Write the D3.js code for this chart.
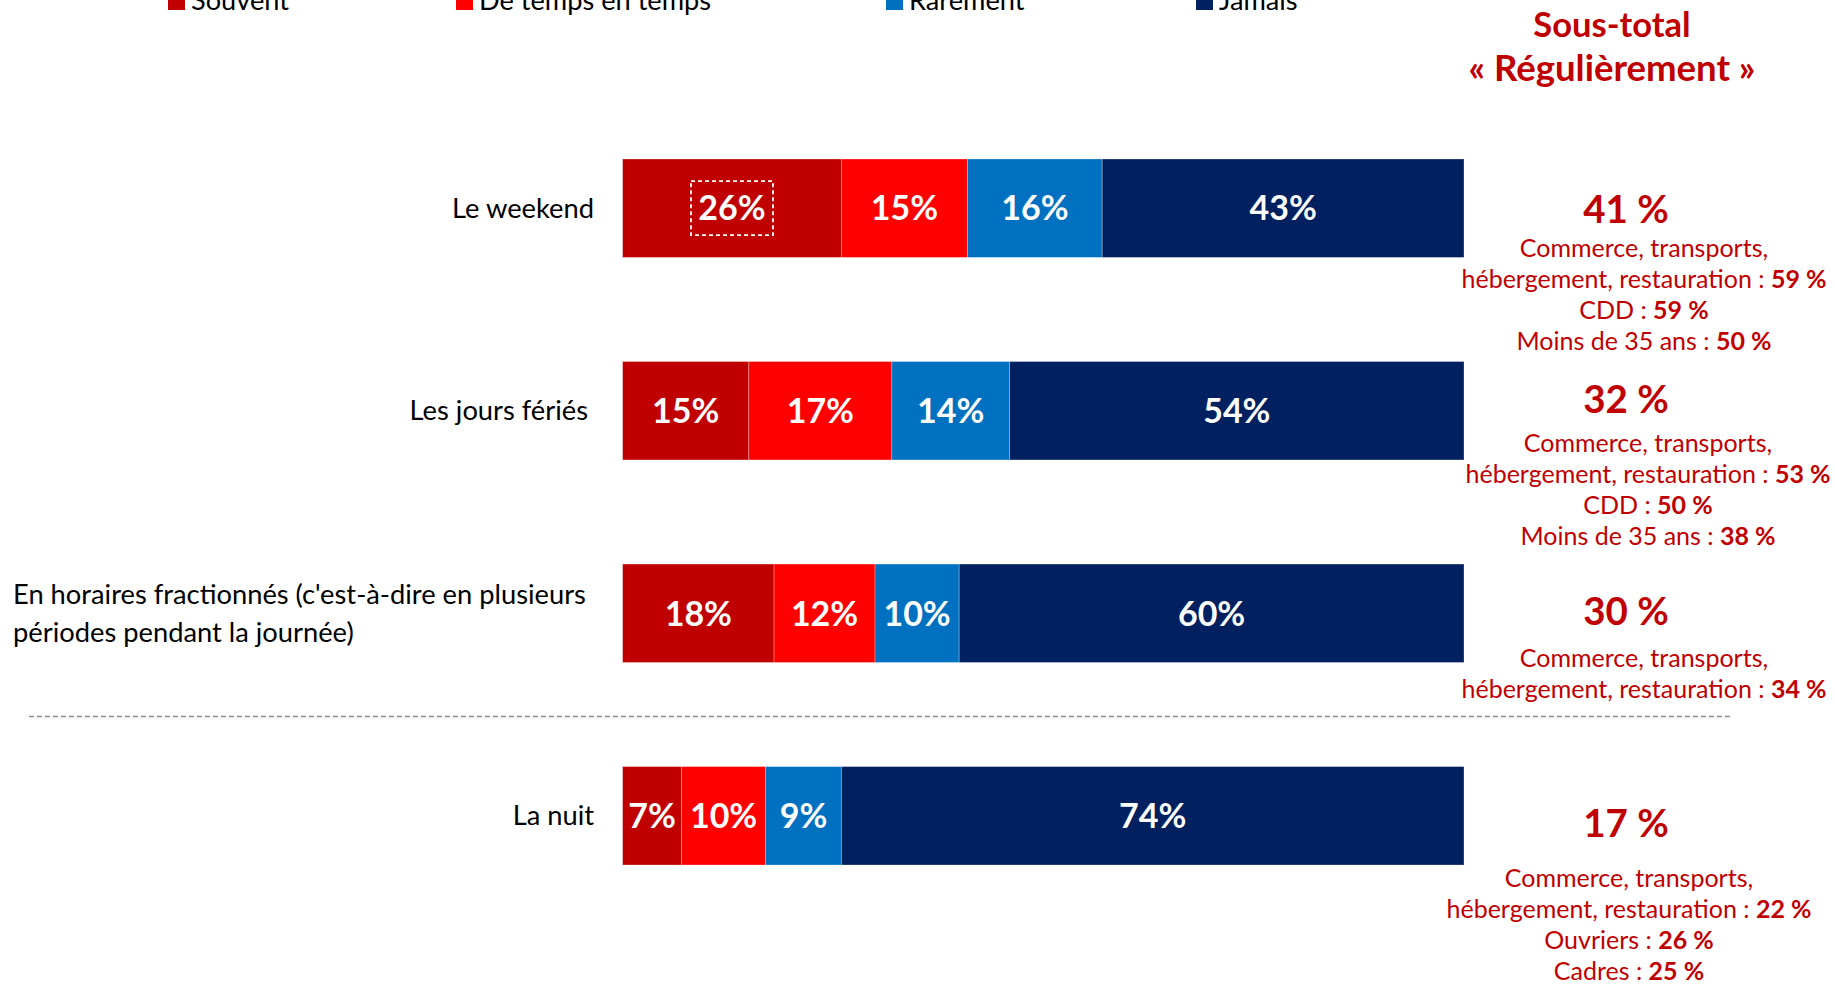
<!DOCTYPE html>
<html><head><meta charset="utf-8">
<script src="https://cdn.jsdelivr.net/npm/d3@7"></script>
<style>body{margin:0;background:#fff} svg{display:block}</style>
</head><body><svg id="c" width="1835" height="985"></svg>
<script>
// ---------- data ----------
const categories = ["Le weekend", "Les jours fériés", "En horaires fractionnés (c'est-à-dire en plusieurs périodes pendant la journée)", "La nuit"];
const categoryLines = [["Le weekend"], ["Les jours fériés"], ["En horaires fractionnés (c'est-à-dire en plusieurs", "périodes pendant la journée)"], ["La nuit"]];
const seriesNames = ["Souvent", "De temps en temps", "Rarement", "Jamais"];
const souvent = [26, 15, 18, 7];
const deTempsEnTemps = [15, 17, 12, 10];
const rarement = [16, 14, 10, 9];
const jamais = [43, 54, 60, 74];
const subtotals = [41, 32, 30, 17];
const detailLabels = [
  ["Commerce, transports,", "hébergement, restauration : ", "CDD : ", "Moins de 35 ans : "],
  ["Commerce, transports,", "hébergement, restauration : ", "CDD : ", "Moins de 35 ans : "],
  ["Commerce, transports,", "hébergement, restauration : "],
  ["Commerce, transports,", "hébergement, restauration : ", "Ouvriers : ", "Cadres : "]
];
const detailValues = [
  [null, 59, 59, 50],
  [null, 53, 50, 38],
  [null, 34],
  [null, 22, 26, 25]
];
const subtotalTitle = ["Sous-total", "« Régulièrement »"];

// ---------- layout / style ----------
const colors = ["#C00000", "#FF0000", "#0070C0", "#002060"];
const annoRed = "#C00000";
const fontFam = "Lato, 'Open Sans', sans-serif";
const bigOffset = [15, 2, 12, 21];      // subtotal baseline vs bar centre
const detailOffset = [49, 41, 54, 71];  // first detail baseline vs bar centre
const detailCx = [1644, 1648, 1644, 1629];
const bigCx = 1626;
const lineGap = 31;
const legendX = [168, 456, 886, 1196];
const labelAnchor = [["end", 594], ["end", 588], ["start", 13], ["end", 594]];
const titleSizes = [34.5, 36.5];

const svg = d3.select("#c");
const x = d3.scaleLinear().domain([0, 100]).range([622.6, 1464]);
const y = d3.scaleBand().domain(categories).range([159, 865]).paddingInner(0.514).paddingOuter(0);
const bw = y.bandwidth();

const rows = categories.map((c, i) => ({cat: c, "Souvent": souvent[i], "De temps en temps": deTempsEnTemps[i], "Rarement": rarement[i], "Jamais": jamais[i]}));
const stack = d3.stack().keys(seriesNames)(rows);

// bars
const g = svg.append("g");
stack.forEach((s, si) => {
  const grp = g.append("g").attr("fill", colors[si]);
  grp.selectAll("rect").data(s).join("rect")
    .attr("x", d => x(d[0])).attr("y", d => y(d.data.cat))
    .attr("width", d => x(d[1]) - x(d[0])).attr("height", bw)
    .attr("stroke", "#ffffff").attr("stroke-opacity", 0.35).attr("stroke-width", 0.8);
  grp.selectAll("text").data(s).join("text")
    .attr("x", d => (x(d[0]) + x(d[1])) / 2)
    .attr("y", d => y(d.data.cat) + bw / 2)
    .attr("dy", "0.36em")
    .attr("text-anchor", "middle")
    .attr("fill", "#fff").attr("font-family", fontFam).attr("font-weight", 700).attr("font-size", 34)
    .text(d => (d[1] - d[0]) + "%");
});

// dashed highlight box around first label
{
  const d = stack[0][0];
  const cx = (x(d[0]) + x(d[1])) / 2, cy = y(d.data.cat) + bw / 2;
  g.append("rect").attr("x", cx - 41).attr("y", cy - 27).attr("width", 82).attr("height", 54)
    .attr("fill", "none").attr("stroke", "#fff").attr("stroke-width", 1.8).attr("stroke-dasharray", "4,3");
}

// category labels
categoryLines.forEach((lines, i) => {
  const cy = y(categories[i]) + bw / 2;
  const t = svg.append("text").attr("text-anchor", labelAnchor[i][0]).attr("font-family", fontFam)
    .attr("font-size", 27.3).attr("fill", "#000");
  lines.forEach((l, li) => {
    t.append("tspan").attr("x", labelAnchor[i][1]).attr("y", cy + (li - (lines.length - 1) / 2) * 37.5)
      .attr("dy", "0.35em").text(l);
  });
});

// separator
{
  const sy = (y(categories[2]) + bw + y(categories[3])) / 2 + 2;
  svg.append("line").attr("x1", 29).attr("x2", 1730).attr("y1", sy).attr("y2", sy)
    .attr("stroke", "#8c8c8c").attr("stroke-width", 1.3).attr("stroke-dasharray", "5,3");
}

// legend (cut at the top edge, as in the original)
seriesNames.forEach((n, i) => {
  svg.append("rect").attr("x", legendX[i]).attr("y", -7).attr("width", 17).attr("height", 17).attr("fill", colors[i]);
  svg.append("text").attr("x", legendX[i] + 23).attr("y", 10).attr("font-family", fontFam)
    .attr("font-size", 27.2).attr("fill", "#000").text(n);
});

// subtotal title
subtotalTitle.forEach((t, i) => {
  svg.append("text").attr("x", 1612).attr("y", 37 + i * 44).attr("text-anchor", "middle")
    .attr("font-family", fontFam).attr("font-weight", 700).attr("font-size", titleSizes[i]).attr("fill", annoRed)
    .text(t);
});

// annotations
subtotals.forEach((v, i) => {
  const cy = y(categories[i]) + bw / 2;
  svg.append("text").attr("x", bigCx).attr("y", cy + bigOffset[i]).attr("text-anchor", "middle")
    .attr("font-family", fontFam).attr("font-weight", 700).attr("font-size", 38.5).attr("fill", annoRed)
    .text(v + " %");
  detailLabels[i].forEach((lab, li) => {
    const t = svg.append("text").attr("x", detailCx[i]).attr("y", cy + detailOffset[i] + li * lineGap)
      .attr("text-anchor", "middle").attr("font-family", fontFam).attr("font-size", 25).attr("fill", annoRed);
    t.append("tspan").text(lab);
    if (detailValues[i][li] != null) t.append("tspan").attr("font-weight", 700).text(detailValues[i][li] + " %");
  });
});
</script></body></html>
